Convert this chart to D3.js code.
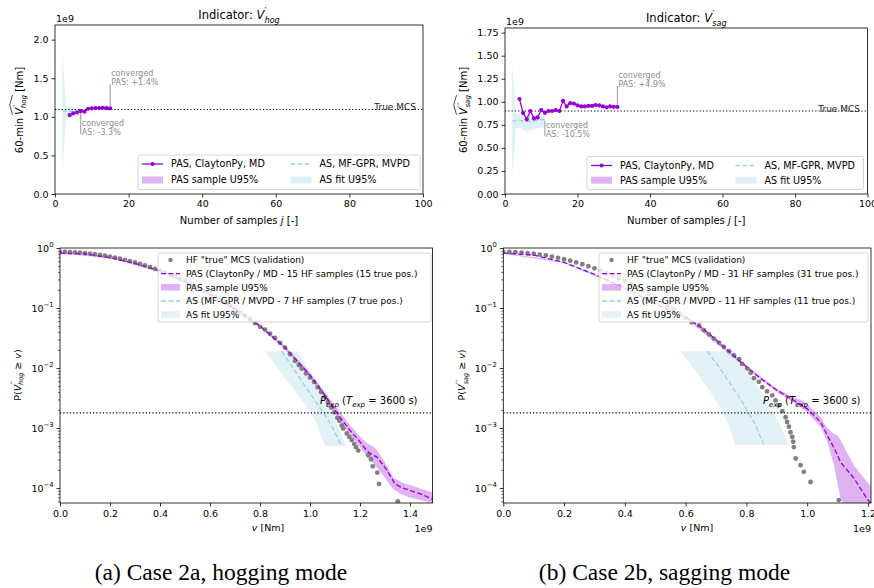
<!DOCTYPE html>
<html>
<head>
<meta charset="utf-8">
<script src="https://cdn.jsdelivr.net/npm/d3@7"></script>
<style>
  body { margin: 0; background: #fff; }
  svg { display: block; font-family: "DejaVu Sans", sans-serif; }
</style>
</head>
<body>
<svg id="fig" width="874" height="588"></svg>
<script>
// ---------------- convergence of the 60-min estimate (top row) ----------------
const topXTicks = [0, 20, 40, 60, 80, 100];

const hogJ   = [4, 5, 6, 7, 8, 9, 10, 11, 12, 13, 14, 15];
const hogPAS = [1.023, 1.045, 1.058, 1.075, 1.066, 1.105, 1.110, 1.114, 1.114, 1.118, 1.112, 1.110];
const hogASj  = [2, 3, 4, 5, 6, 7];
const hogAS   = [1.080, 1.075, 1.070, 1.065, 1.060, 1.059];
const hogASlo = [0.29, 0.98, 0.99, 1.00, 1.01, 1.01];
const hogAShi = [1.83, 1.15, 1.13, 1.12, 1.11, 1.10];
const hogTrueMCS = 1.095;
const hogYTicks = [0, 0.5, 1.0, 1.5, 2.0];

const sagJ   = [4, 5, 6, 7, 8, 9, 10, 11, 12, 13, 14, 15, 16, 17, 18, 19, 20, 21, 22, 23, 24, 25, 26, 27, 28, 29, 30, 31];
const sagPAS = [1.030, 0.877, 0.810, 0.900, 0.820, 0.830, 0.910, 0.880, 0.900, 0.900, 0.910, 0.900, 1.010, 0.950,
                0.985, 0.980, 0.960, 0.950, 0.950, 0.955, 0.955, 0.965, 0.960, 0.950, 0.940, 0.950, 0.945, 0.944];
const sagASj  = [2, 3, 4, 5, 6, 7, 8, 9, 10, 11];
const sagAS   = [0.790, 0.795, 0.800, 0.790, 0.785, 0.790, 0.795, 0.800, 0.805, 0.806];
const sagASlo = [0.20, 0.71, 0.72, 0.70, 0.68, 0.69, 0.70, 0.71, 0.72, 0.72];
const sagAShi = [1.40, 0.87, 0.86, 0.86, 0.85, 0.85, 0.845, 0.84, 0.84, 0.845];
const sagTrueMCS = 0.90;
const sagYTicks = [0, 0.25, 0.5, 0.75, 1.0, 1.25, 1.5, 1.75];

const hogNotes = { pas: "PAS: +1.4%", as: "AS: -3.3%" };
const sagNotes = { pas: "PAS: +4.9%", as: "AS: -10.5%" };
const topLegendLabels = ["PAS, ClaytonPy, MD", "PAS sample U95%", "AS, MF-GPR, MVPD", "AS fit U95%"];

// ---------------- exceedance probability (bottom row), v in units of 1e9 Nm ----------------
const hogHFv = [0.00, 0.02, 0.04, 0.06, 0.08, 0.10, 0.12, 0.14, 0.16, 0.18, 0.20, 0.22, 0.24, 0.26, 0.28, 0.30,
  0.32, 0.34, 0.36, 0.38, 0.40, 0.42, 0.44, 0.46, 0.48, 0.50, 0.52, 0.54, 0.56, 0.58, 0.60, 0.62, 0.64, 0.66,
  0.68, 0.70, 0.72, 0.74, 0.76, 0.78, 0.80, 0.82, 0.84, 0.86, 0.88, 0.90, 0.92, 0.94, 0.955, 0.967, 0.984, 1.000,
  1.016, 1.031, 1.044, 1.060, 1.072, 1.085, 1.097, 1.109, 1.117, 1.127, 1.133, 1.147, 1.157, 1.167, 1.177, 1.184,
  1.193, 1.233, 1.244, 1.251, 1.269, 1.276, 1.351];
const hogHFp = [0.861, 0.859, 0.855, 0.847, 0.837, 0.823, 0.807, 0.789, 0.767, 0.744, 0.719, 0.693, 0.665, 0.636,
  0.606, 0.575, 0.544, 0.512, 0.481, 0.450, 0.420, 0.390, 0.361, 0.333, 0.306, 0.280, 0.256, 0.232, 0.211, 0.190,
  0.171, 0.153, 0.137, 0.122, 0.108, 0.0954, 0.0840, 0.0737, 0.0644, 0.0561, 0.0486, 0.0437, 0.0372, 0.0316, 0.0263,
  0.0219, 0.0170, 0.0132, 0.0112, 0.00977, 0.00813, 0.00692, 0.00589, 0.00479, 0.00398, 0.00331, 0.00269, 0.00219,
  0.00182, 0.00148, 0.00132, 0.00110, 0.00098, 0.00081, 0.00071, 0.00063, 0.00054, 0.00048, 0.00042, 0.00035,
  0.00030, 0.00023, 0.00018, 0.000117, 0.00006];

const hogPASv = [0.00, 0.10, 0.20, 0.30, 0.40, 0.50, 0.60, 0.70, 0.80, 0.90, 1.00, 1.05, 1.10, 1.12, 1.16, 1.20,
  1.227, 1.25, 1.267, 1.307, 1.34, 1.37, 1.40, 1.45, 1.49];
const hogPASp = [0.822, 0.794, 0.692, 0.556, 0.412, 0.279, 0.172, 0.0966, 0.0501, 0.0219, 0.00759, 0.00398, 0.00200,
  0.00151, 0.000912, 0.000589, 0.000417, 0.000355, 0.000331, 0.000200, 0.000117, 0.000100, 0.0000912, 0.0000776, 0.0000646];
const hogBandV  = [0.00, 0.20, 0.40, 0.60, 0.80, 0.90, 1.00, 1.05, 1.10, 1.16, 1.20, 1.227, 1.26, 1.293, 1.333, 1.373, 1.40, 1.45, 1.49];
const hogBandLo = [0.804, 0.676, 0.400, 0.165, 0.0473, 0.0204, 0.00692, 0.00355, 0.00174, 0.000759, 0.000479, 0.000331,
  0.000240, 0.000162, 0.0000955, 0.0000759, 0.0000692, 0.0000617, 0.0000562];
const hogBandHi = [0.841, 0.708, 0.425, 0.179, 0.0531, 0.0234, 0.00832, 0.00447, 0.00234, 0.00112, 0.000724, 0.000562,
  0.000468, 0.000302, 0.000151, 0.000120, 0.000112, 0.0000955, 0.0000851];
const hogASp    = [0.0191, 0.0100, 0.00501, 0.00251, 0.00126, 0.000501];
const hogASvLo  = [0.820, 0.870, 0.925, 0.980, 1.025, 1.060];
const hogASvMid = [0.887, 0.932, 0.980, 1.030, 1.078, 1.127];
const hogASvHi  = [0.953, 0.990, 1.030, 1.070, 1.105, 1.144];

const sagHFv = [0.00, 0.02, 0.04, 0.06, 0.08, 0.10, 0.12, 0.14, 0.16, 0.18, 0.20, 0.22, 0.24, 0.26, 0.28, 0.30,
  0.32, 0.34, 0.36, 0.38, 0.40, 0.42, 0.44, 0.46, 0.48, 0.50, 0.52, 0.54, 0.56, 0.58, 0.60, 0.62, 0.644, 0.660,
  0.677, 0.693, 0.710, 0.726, 0.743, 0.759, 0.776, 0.786, 0.803, 0.814, 0.825, 0.841, 0.852, 0.868, 0.885, 0.896,
  0.907, 0.918, 0.929, 0.934, 0.940, 0.945, 0.951, 0.954, 0.956, 0.962, 0.978, 0.989, 1.011, 1.104];
const sagHFp = [0.861, 0.858, 0.851, 0.839, 0.823, 0.803, 0.778, 0.750, 0.719, 0.686, 0.650, 0.613, 0.574, 0.536,
  0.496, 0.458, 0.419, 0.382, 0.347, 0.312, 0.280, 0.249, 0.221, 0.195, 0.171, 0.149, 0.129, 0.111, 0.0952, 0.0811,
  0.0687, 0.0579, 0.0513, 0.0427, 0.0363, 0.0309, 0.0263, 0.0224, 0.0191, 0.0162, 0.0140, 0.0117, 0.00977, 0.00832,
  0.00676, 0.00589, 0.00479, 0.00407, 0.00351, 0.00288, 0.00240, 0.00191, 0.00151, 0.00126, 0.00105, 0.00085,
  0.00071, 0.00059, 0.00048, 0.00031, 0.00024, 0.000186, 0.000126, 0.000063];

const sagPASv = [0.00, 0.10, 0.20, 0.30, 0.40, 0.50, 0.60, 0.65, 0.70, 0.75, 0.80, 0.85, 0.90, 0.95, 1.00, 1.044,
  1.066, 1.09, 1.11, 1.154, 1.197, 1.21];
const sagPASp = [0.822, 0.759, 0.575, 0.365, 0.214, 0.117, 0.0708, 0.0480, 0.0295, 0.0174, 0.0105, 0.00646, 0.00427,
  0.00302, 0.00209, 0.00126, 0.000759, 0.000447, 0.000269, 0.000145, 0.0000661, 0.000055];
const sagBandV  = [0.00, 0.20, 0.40, 0.60, 0.80, 0.90, 0.95, 0.98, 1.00, 1.044, 1.066, 1.088, 1.099, 1.11, 1.13, 1.154, 1.197, 1.21];
const sagBandLo = [0.804, 0.562, 0.207, 0.0676, 0.0100, 0.00398, 0.00275, 0.00219, 0.00182, 0.00105, 0.000589, 0.000240,
  0.000126, 0.0000661, 0.0000398, 0.0000316, 0.0000316, 0.0000316];
const sagBandHi = [0.841, 0.589, 0.221, 0.0741, 0.0110, 0.00457, 0.00331, 0.00295, 0.00251, 0.00151, 0.00100, 0.000794,
  0.000759, 0.000631, 0.000398, 0.000240, 0.000126, 0.000105];
const sagASp    = [0.0191, 0.0100, 0.00501, 0.00251, 0.00126, 0.000525];
const sagASvLo  = [0.583, 0.625, 0.668, 0.706, 0.738, 0.764];
const sagASvMid = [0.671, 0.712, 0.752, 0.790, 0.825, 0.857];
const sagASvHi  = [0.759, 0.797, 0.836, 0.872, 0.905, 0.940];

const pExp = 1.78e-3;
const hogXTicks = [0, 0.2, 0.4, 0.6, 0.8, 1.0, 1.2, 1.4];
const sagXTicks = [0, 0.2, 0.4, 0.6, 0.8, 1.0, 1.2];
const logTicks = [1, 0.1, 0.01, 0.001, 0.0001];
const hogLegendLabels = ['HF "true" MCS (validation)', "PAS (ClaytonPy / MD - 15 HF samples (15 true pos.)",
  "PAS sample U95%", "AS (MF-GPR / MVPD - 7 HF samples (7 true pos.)", "AS fit U95%"];
const sagLegendLabels = ['HF "true" MCS (validation)', "PAS (ClaytonPy / MD - 31 HF samples (31 true pos.)",
  "PAS sample U95%", "AS (MF-GPR / MVPD - 11 HF samples (11 true pos.)", "AS fit U95%"];

// ---------------- drawing ----------------
const svg = d3.select("#fig");
const FONT = "DejaVu Sans";
const PURPLE = "#9400d3";
const BAND_BLUE = "#add8e6";
const AS_BLUE = "#9ccfe1";
const DOT_GRAY = "#808080";
const NOTE_GRAY = "#8c8c8c";
const FS_TICK = 9.5;

function rich(parent, x, y, size, anchor, parts) {
  const t = parent.append("text").attr("x", x).attr("y", y).attr("font-size", size)
    .attr("text-anchor", anchor).attr("fill", "#000").attr("font-family", FONT);
  parts.forEach(p => {
    const s = t.append("tspan").text(p.t);
    if (p.i) s.attr("font-style", "italic");
    if (p.fs) s.attr("font-size", p.fs);
    if (p.dx) s.attr("dx", p.dx);
    if (p.dy) s.attr("dy", p.dy);
  });
  return t;
}

function styleAxis(g) {
  g.attr("font-family", FONT).attr("font-size", FS_TICK);
  g.select(".domain").remove();
  g.selectAll(".tick line").attr("stroke", "#000").attr("stroke-width", 0.8);
  g.selectAll(".tick text").attr("fill", "#000");
}

function frame(c) {
  svg.append("rect").attr("x", c.left).attr("y", c.top)
    .attr("width", c.right - c.left).attr("height", c.bottom - c.top)
    .attr("fill", "none").attr("stroke", "#000").attr("stroke-width", 0.8);
}

function clipFor(c) {
  svg.append("clipPath").attr("id", c.id + "-clip").append("rect")
    .attr("x", c.left).attr("y", c.top).attr("width", c.right - c.left).attr("height", c.bottom - c.top);
  return svg.append("g").attr("clip-path", `url(#${c.id}-clip)`);
}

// rotated y label "60-min \widehat{V''_sub} [Nm]"
function convYLabel(cx, cy, primes, sub) {
  const g = svg.append("g").attr("transform", `translate(${cx},${cy}) rotate(-90)`);
  const t = rich(g, 0, 0, 10, "middle", [
    { t: "60-min " }, { t: "V", i: 1 }, { t: primes, fs: 7.5, dx: 0.3, dy: -4.5 },
    { t: sub, i: 1, fs: 7, dx: -1.2 * primes.length - 1.5, dy: 7.5 }, { t: " [Nm]", dy: -3 }
  ]);
  const node = t.node();
  const s = node.getStartPositionOfChar(7).x;
  let e = s;
  for (let i = 7; i < 7 + 1 + primes.length + sub.length; i++) e = Math.max(e, node.getEndPositionOfChar(i).x);
  g.append("path").attr("d", `M${s},-10.5 L${(s + e) / 2},-13.3 L${e},-10.5`)
    .attr("fill", "none").attr("stroke", "#000").attr("stroke-width", 0.7);
}

function topPanel(c) {
  const x = d3.scaleLinear().domain([0, 100]).range([c.left, c.right]);
  const y = d3.scaleLinear().domain([0, 2 * c.trueMCS]).range([c.bottom, c.top]);
  const plot = clipFor(c);

  const asRows = c.asJ.map((j, i) => ({ j, m: c.as[i], lo: c.asLo[i], hi: c.asHi[i] }));
  plot.append("path").datum(asRows)
    .attr("d", d3.area().x(d => x(d.j)).y0(d => y(d.lo)).y1(d => y(d.hi)))
    .attr("fill", BAND_BLUE).attr("fill-opacity", 0.4);
  plot.append("path").datum(asRows)
    .attr("d", d3.line().x(d => x(d.j)).y(d => y(d.m)))
    .attr("fill", "none").attr("stroke", AS_BLUE).attr("stroke-width", 1.3).attr("stroke-dasharray", "4.5,2.5");

  plot.append("line").attr("x1", c.left).attr("x2", c.right)
    .attr("y1", y(c.trueMCS)).attr("y2", y(c.trueMCS))
    .attr("stroke", "#000").attr("stroke-width", 1.2).attr("stroke-dasharray", "1.2,2.1");

  const pasRows = c.pasJ.map((j, i) => ({ j, v: c.pas[i] }));
  plot.append("path").datum(pasRows)
    .attr("d", d3.line().x(d => x(d.j)).y(d => y(d.v)))
    .attr("fill", "none").attr("stroke", PURPLE).attr("stroke-width", 1.3);
  plot.selectAll("circle").data(pasRows).join("circle")
    .attr("cx", d => x(d.j)).attr("cy", d => y(d.v)).attr("r", 2.1).attr("fill", PURPLE);

  svg.append("text").attr("x", c.trueLabelX).attr("y", y(c.trueMCS) + 0.5)
    .attr("text-anchor", "end").attr("font-size", 9).attr("font-family", FONT).attr("fill", "#222")
    .text("True MCS");

  // "converged" call-outs at the last sample of each method
  const lastPas = pasRows[pasRows.length - 1];
  const px = x(lastPas.j), py = y(lastPas.v);
  const pTop = py - c.pasUp;
  svg.append("line").attr("x1", px).attr("x2", px).attr("y1", py - 1).attr("y2", pTop)
    .attr("stroke", NOTE_GRAY).attr("stroke-width", 0.9);
  [["converged", pTop - 8], [c.notes.pas, pTop + 1]].forEach(([s, yy]) =>
    svg.append("text").attr("x", px + 1).attr("y", yy).attr("font-size", 8).attr("font-family", FONT)
      .attr("fill", NOTE_GRAY).text(s));
  const lastAs = asRows[asRows.length - 1];
  const ax = x(lastAs.j), ay = y(lastAs.m);
  const aBot = ay + c.asDown;
  svg.append("line").attr("x1", ax).attr("x2", ax).attr("y1", ay + 1).attr("y2", aBot)
    .attr("stroke", NOTE_GRAY).attr("stroke-width", 0.9);
  [["converged", aBot - 8.5], [c.notes.as, aBot + 0.5]].forEach(([s, yy]) =>
    svg.append("text").attr("x", ax + 1).attr("y", yy).attr("font-size", 8).attr("font-family", FONT)
      .attr("fill", NOTE_GRAY).text(s));

  // legend
  const L = c.legend;
  const lg = svg.append("g").attr("font-family", FONT).attr("font-size", 9.6);
  lg.append("rect").attr("x", L.x).attr("y", L.y).attr("width", L.w).attr("height", L.h).attr("rx", 2)
    .attr("fill", "#fff").attr("fill-opacity", 0.8).attr("stroke", "#cccccc").attr("stroke-width", 0.8);
  const r1 = L.y + L.r1, r2 = L.y + L.r2;
  lg.append("line").attr("x1", L.x + 4).attr("x2", L.x + 25).attr("y1", r1).attr("y2", r1)
    .attr("stroke", PURPLE).attr("stroke-width", 1.3);
  lg.append("circle").attr("cx", L.x + 14.5).attr("cy", r1).attr("r", 2.1).attr("fill", PURPLE);
  lg.append("rect").attr("x", L.x + 4).attr("y", r2 - 3.5).attr("width", 21).attr("height", 7)
    .attr("fill", PURPLE).attr("fill-opacity", 0.3);
  lg.append("line").attr("x1", L.x + L.c2).attr("x2", L.x + L.c2 + 21).attr("y1", r1).attr("y2", r1)
    .attr("stroke", AS_BLUE).attr("stroke-width", 1.3).attr("stroke-dasharray", "4.5,2.5");
  lg.append("rect").attr("x", L.x + L.c2).attr("y", r2 - 3.5).attr("width", 21).attr("height", 7)
    .attr("fill", BAND_BLUE).attr("fill-opacity", 0.4);
  [[L.x + 33, r1, 0], [L.x + 33, r2, 1], [L.x + L.c2 + 29, r1, 2], [L.x + L.c2 + 29, r2, 3]].forEach(([tx, ty, k]) =>
    lg.append("text").attr("x", tx).attr("y", ty + 3.4).attr("fill", "#000").text(topLegendLabels[k]));

  // axes
  const xa = svg.append("g").attr("transform", `translate(0,${c.bottom})`)
    .call(d3.axisBottom(x).tickValues(topXTicks).tickSize(3.5).tickPadding(3).tickFormat(d3.format("d")));
  const ya = svg.append("g").attr("transform", `translate(${c.left},0)`)
    .call(d3.axisLeft(y).tickValues(c.yTicks).tickSize(3.5).tickPadding(3).tickFormat(d3.format(c.yFmt)));
  styleAxis(xa); styleAxis(ya);
  frame(c);

  svg.append("text").attr("x", c.left + 1).attr("y", c.top - 3).attr("font-size", FS_TICK)
    .attr("font-family", FONT).text("1e9");
  rich(svg, (c.left + c.right) / 2, 224, 10, "middle",
    [{ t: "Number of samples " }, { t: "j", i: 1 }, { t: " [-]" }]);
  rich(svg, (c.left + c.right) / 2, c.titleY, 11.5, "middle",
    [{ t: "Indicator: " }, { t: "V", i: 1 }, { t: "\u2032", fs: 9, dx: 0.3, dy: -5 }, { t: c.sub, i: 1, fs: 8, dx: -2, dy: 8.5 }]);
  convYLabel(c.ylabX, 110, c.primes, c.sub);
}

function bottomPanel(c) {
  const x = d3.scaleLinear().domain([0, c.xMax]).range([c.left, c.right]);
  const y = d3.scaleLog().domain([Math.pow(10, -4.25), 1]).range([c.bottom, c.top]);
  const plot = clipFor(c);

  const asRows = c.asP.map((p, i) => ({ p, l: c.asLo[i], m: c.asMid[i], h: c.asHi[i] }));
  plot.append("path").datum(asRows)
    .attr("d", d3.area().y(d => y(d.p)).x0(d => x(d.l)).x1(d => x(d.h)))
    .attr("fill", BAND_BLUE).attr("fill-opacity", 0.35);

  const bandRows = c.bandV.map((v, i) => ({ v, lo: c.bandLo[i], hi: c.bandHi[i] }));
  plot.append("path").datum(bandRows)
    .attr("d", d3.area().x(d => x(d.v)).y0(d => y(d.lo)).y1(d => y(d.hi)))
    .attr("fill", PURPLE).attr("fill-opacity", 0.3);

  const hf = c.hfV.map((v, i) => ({ v, p: c.hfP[i] }));
  plot.append("g").selectAll("circle").data(hf).join("circle")
    .attr("cx", d => x(d.v)).attr("cy", d => y(d.p)).attr("r", 2.4).attr("fill", DOT_GRAY);

  plot.append("path").datum(asRows)
    .attr("d", d3.line().x(d => x(d.m)).y(d => y(d.p)))
    .attr("fill", "none").attr("stroke", AS_BLUE).attr("stroke-width", 1.3).attr("stroke-dasharray", "5,2.5");

  const pas = c.pasV.map((v, i) => ({ v, p: c.pasP[i] }));
  plot.append("path").datum(pas)
    .attr("d", d3.line().x(d => x(d.v)).y(d => y(d.p)))
    .attr("fill", "none").attr("stroke", PURPLE).attr("stroke-width", 1.3).attr("stroke-dasharray", "5,2.5");

  plot.append("line").attr("x1", c.left).attr("x2", c.right).attr("y1", y(pExp)).attr("y2", y(pExp))
    .attr("stroke", "#000").attr("stroke-width", 1.2).attr("stroke-dasharray", "1.2,2.1");
  rich(svg, c.pexpX, y(pExp) - 8.5, 10, "start", [
    { t: "P", i: 1 }, { t: "exp", i: 1, fs: 7, dy: 2.5 }, { t: " (", dy: -2.5 },
    { t: "T", i: 1 }, { t: "exp", i: 1, fs: 7, dy: 2.5 }, { t: " = 3600 s)", dy: -2.5 }
  ]);

  // legend
  const L = c.legend;
  const lg = svg.append("g").attr("font-family", FONT).attr("font-size", 9);
  lg.append("rect").attr("x", L.x).attr("y", L.y).attr("width", L.w).attr("height", L.h).attr("rx", 2)
    .attr("fill", "#fff").attr("fill-opacity", 0.8).attr("stroke", "#cccccc").attr("stroke-width", 0.8);
  const rows = [7, 20.7, 34.3, 48, 61.5].map(o => L.y + o);
  lg.append("circle").attr("cx", L.x + 12.5).attr("cy", rows[0]).attr("r", 2.2).attr("fill", DOT_GRAY);
  lg.append("line").attr("x1", L.x + 3).attr("x2", L.x + 22).attr("y1", rows[1]).attr("y2", rows[1])
    .attr("stroke", PURPLE).attr("stroke-width", 1.3).attr("stroke-dasharray", "5,2.5");
  lg.append("rect").attr("x", L.x + 3).attr("y", rows[2] - 3.3).attr("width", 19).attr("height", 6.6)
    .attr("fill", PURPLE).attr("fill-opacity", 0.3);
  lg.append("line").attr("x1", L.x + 3).attr("x2", L.x + 22).attr("y1", rows[3]).attr("y2", rows[3])
    .attr("stroke", AS_BLUE).attr("stroke-width", 1.3).attr("stroke-dasharray", "5,2.5");
  lg.append("rect").attr("x", L.x + 3).attr("y", rows[4] - 3.3).attr("width", 19).attr("height", 6.6)
    .attr("fill", BAND_BLUE).attr("fill-opacity", 0.35);
  c.labels.forEach((s, k) =>
    lg.append("text").attr("x", L.x + 28).attr("y", rows[k] + 3.2).attr("fill", "#000").text(s));

  // axes
  const xa = svg.append("g").attr("transform", `translate(0,${c.bottom})`)
    .call(d3.axisBottom(x).tickValues(c.xTicks).tickSize(3.5).tickPadding(3.5).tickFormat(d3.format(".1f")));
  styleAxis(xa);
  const ya = svg.append("g").attr("transform", `translate(${c.left},0)`)
    .call(d3.axisLeft(y).tickValues(logTicks).tickSize(3.5).tickPadding(3).tickFormat(() => ""));
  styleAxis(ya);
  ya.selectAll(".tick text").each(function (d) {
    const e = Math.round(Math.log10(d));
    const t = d3.select(this).text(null).attr("dy", "0.32em");
    t.append("tspan").text("10");
    t.append("tspan").text(e === 0 ? "0" : "\u2212" + Math.abs(e)).attr("font-size", 6.8).attr("dy", -4.2);
  });
  const minor = [];
  for (let e = -5; e < 0; e++) for (let k = 2; k <= 9; k++) {
    const v = k * Math.pow(10, e);
    if (v >= y.domain()[0] && v <= 1) minor.push(v);
  }
  const ym = svg.append("g").attr("transform", `translate(${c.left},0)`)
    .call(d3.axisLeft(y).tickValues(minor).tickSize(2).tickFormat(() => ""));
  ym.select(".domain").remove();
  ym.selectAll(".tick line").attr("stroke", "#000").attr("stroke-width", 0.6);
  frame(c);

  svg.append("text").attr("x", c.right).attr("y", 532).attr("text-anchor", "end")
    .attr("font-size", FS_TICK).attr("font-family", FONT).text("1e9");
  rich(svg, c.xlabX, 531, 9.5, "middle", [{ t: "v", i: 1 }, { t: " [Nm]" }]);
  const yg = svg.append("g").attr("transform", `translate(${c.ylabX},375) rotate(-90)`);
  rich(yg, 0, 0, 9.5, "middle", [
    { t: "P(" }, { t: "V", i: 1 }, { t: c.primes, fs: 7, dx: 0.3, dy: -4.5 },
    { t: c.sub, i: 1, fs: 6.5, dx: -1.1 * c.primes.length - 1.5, dy: 7 },
    { t: "  \u2265  ", dy: -2.5 }, { t: "v", i: 1 }, { t: ")" }
  ]);
}

topPanel({
  id: "hogTop", left: 55, right: 423, top: 25, bottom: 194,
  trueMCS: hogTrueMCS, yTicks: hogYTicks, yFmt: ".1f",
  pasJ: hogJ, pas: hogPAS, asJ: hogASj, as: hogAS, asLo: hogASlo, asHi: hogAShi,
  notes: hogNotes, pasUp: 24, asDown: 22, trueLabelX: 416,
  legend: { x: 138, y: 155, w: 282, h: 34.5, r1: 9, r2: 25, c2: 152.5 },
  sub: "hog", primes: "\u2032\u2032", ylabX: 23, titleY: 19
});
topPanel({
  id: "sagTop", left: 505, right: 867.5, top: 28, bottom: 194,
  trueMCS: sagTrueMCS, yTicks: sagYTicks, yFmt: ".2f",
  pasJ: sagJ, pas: sagPAS, asJ: sagASj, as: sagAS, asLo: sagASlo, asHi: sagAShi,
  notes: sagNotes, pasUp: 21, asDown: 16.5, trueLabelX: 860,
  legend: { x: 587, y: 156.5, w: 276.5, h: 33, r1: 9, r2: 23.7, c2: 148.5 },
  sub: "sag", primes: "\u2032\u2032\u2032", ylabX: 467, titleY: 22
});
bottomPanel({
  id: "hogBot", left: 60, right: 432.5, top: 248, bottom: 503, xMax: 1.49, xTicks: hogXTicks,
  hfV: hogHFv, hfP: hogHFp, pasV: hogPASv, pasP: hogPASp,
  bandV: hogBandV, bandLo: hogBandLo, bandHi: hogBandHi,
  asP: hogASp, asLo: hogASvLo, asMid: hogASvMid, asHi: hogASvHi,
  labels: hogLegendLabels, legend: { x: 158, y: 253, w: 273, h: 69 },
  pexpX: 320, xlabX: 268, ylabX: 20.5, sub: "hog", primes: "\u2032\u2032"
});
bottomPanel({
  id: "sagBot", left: 503.3, right: 871, top: 248, bottom: 503, xMax: 1.21, xTicks: sagXTicks,
  hfV: sagHFv, hfP: sagHFp, pasV: sagPASv, pasP: sagPASp,
  bandV: sagBandV, bandLo: sagBandLo, bandHi: sagBandHi,
  asP: sagASp, asLo: sagASvLo, asMid: sagASvMid, asHi: sagASvHi,
  labels: sagLegendLabels, legend: { x: 599, y: 253, w: 269, h: 69 },
  pexpX: 763, xlabX: 697, ylabX: 465, sub: "sag", primes: "\u2032\u2032\u2032"
});

// sub-figure captions
[["(a) Case 2a, hogging mode", 221], ["(b) Case 2b, sagging mode", 664.5]].forEach(([s, cx]) =>
  svg.append("text").attr("x", cx).attr("y", 580).attr("text-anchor", "middle")
    .attr("font-family", "Liberation Serif").attr("font-size", 23.5).attr("fill", "#000").text(s));
</script>
</body>
</html>
